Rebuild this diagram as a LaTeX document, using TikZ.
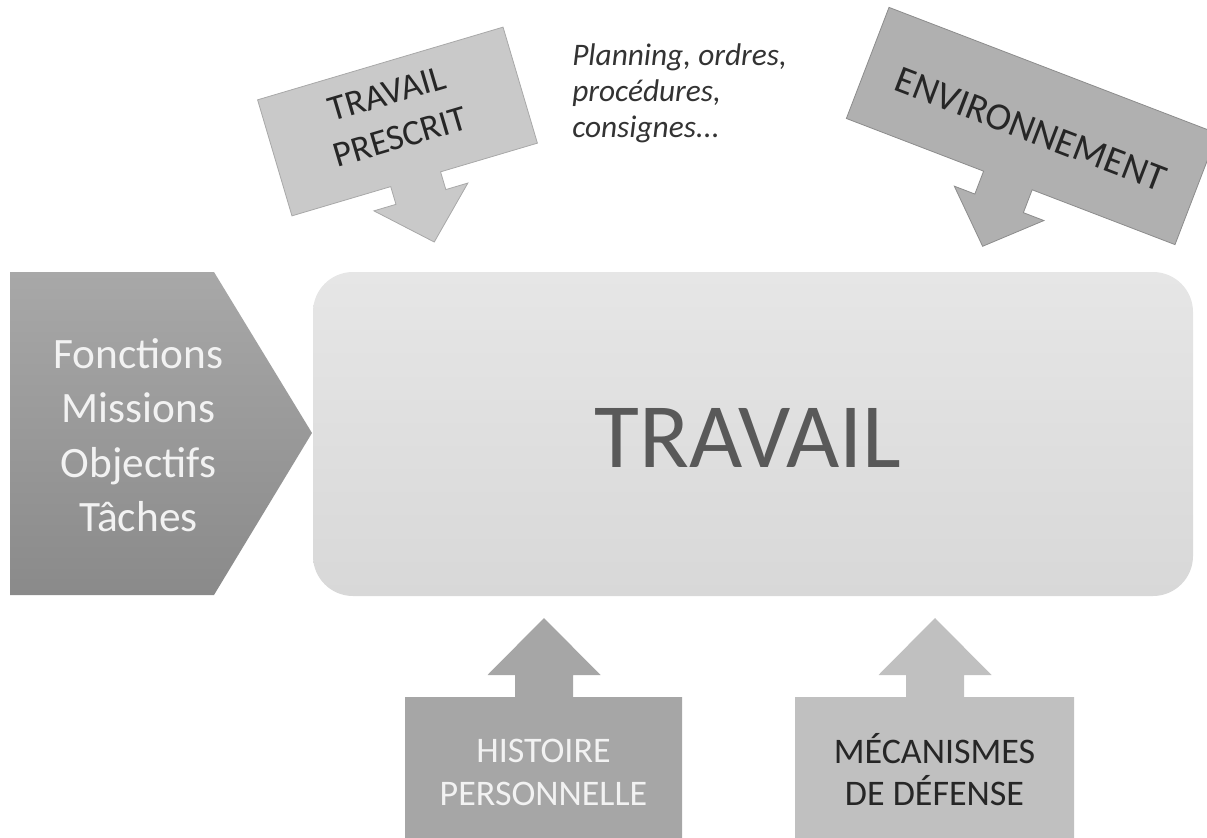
\documentclass[tikz,border=0pt]{standalone}
\usepackage{fontspec}
\setmainfont{Carlito}
\definecolor{boxtop}{HTML}{E6E6E6}
\definecolor{boxbot}{HTML}{D8D8D8}
\definecolor{penttop}{HTML}{A8A8A8}
\definecolor{pentbot}{HTML}{8A8A8A}
\definecolor{histfill}{HTML}{A6A6A6}
\definecolor{mecafill}{HTML}{C0C0C0}
\definecolor{prescfill}{HTML}{C9C9C9}
\definecolor{prescline}{HTML}{A8A8A8}
\definecolor{envfill}{HTML}{B0B0B0}
\definecolor{envline}{HTML}{8C8C8C}
\definecolor{darktext}{HTML}{262626}
\definecolor{notecol}{HTML}{333333}
\definecolor{maintext}{HTML}{595959}
\definecolor{lighttext}{HTML}{F2F2F2}
\begin{document}
\begin{tikzpicture}[x=0.75pt,y=-0.75pt,
  lbl/.style={inner sep=0pt, anchor=base},
  smalltxt/.style={lbl, font=\fontsize{27}{32}\selectfont},
  sidetxt/.style={lbl, font=\fontsize{32.5}{39}\selectfont, text=lighttext},
  notetxt/.style={inner sep=0pt, anchor=base west, font=\fontsize{23.5}{28}\selectfont\itshape, text=notecol}]
\useasboundingbox (0,0) rectangle (1207,838);
\clip (0,0) rectangle (1207,838);

% central block
\shade[top color=boxtop, bottom color=boxbot, rounded corners=30pt]
  (313,272) rectangle (1193,596);
\node[lbl, font=\fontsize{69}{80}\selectfont, text=maintext] (travail) at (748,467) {TRAVAIL};

% left pentagon
\shade[top color=penttop, bottom color=pentbot]
  (10,272) -- (214,272) -- (312,433) -- (214,595) -- (10,595) -- cycle;
\node[sidetxt] (f1) at (138.5,368) {Fonctions};
\node[sidetxt] (f2) at (138.5,422) {Missions};
\node[sidetxt] (f3) at (138.5,477) {Objectifs};
\node[sidetxt] (f4) at (138.5,531) {Tâches};

% bottom callouts
\fill[histfill] (405,845) -- (405,697) -- (515,697) -- (515,675) -- (487.5,675)
  -- (544,618) -- (600.5,675) -- (573,675) -- (573,697) -- (682,697) -- (682,845) -- cycle;
\node[smalltxt, text=lighttext] (h1) at (543.5,762) {HISTOIRE};
\node[smalltxt, text=lighttext] (h2) at (543.5,805) {PERSONNELLE};

\fill[mecafill] (795,845) -- (795,697) -- (906,697) -- (906,675) -- (878.5,675)
  -- (935,618) -- (991.5,675) -- (964,675) -- (964,697) -- (1074,697) -- (1074,845) -- cycle;
\node[smalltxt, text=darktext] (m1) at (934.5,763) {MÉCANISMES};
\node[smalltxt, text=darktext] (m2) at (934.5,805) {DE DÉFENSE};

% prescribed work callout
\begin{scope}[shift={(397.5,121.5)}, rotate=16.5]
  \filldraw[fill=prescfill, draw=prescline, line width=0.6pt]
    (-128,-60.5) -- (128,-60.5) -- (128,60.5) -- (27,60.5) -- (27,79) -- (50,79)
    -- (1,126) -- (-48,79) -- (-25,79) -- (-25,60.5) -- (-128,60.5) -- cycle;
  \node[smalltxt, text=darktext, rotate=16.5] (p1) at (-2,-18) {TRAVAIL};
  \node[smalltxt, text=darktext, rotate=16.5] (p2) at (-2,27) {PRESCRIT};
\end{scope}

% environment callout
\begin{scope}[shift={(1032,126)}, rotate=-21]
  \filldraw[fill=envfill, draw=envline, line width=0.6pt]
    (-176,-59.5) -- (176,-59.5) -- (176,59.5) -- (23,59.5) -- (23,84) -- (45,84)
    -- (-3,130) -- (-51,84) -- (-29,84) -- (-29,59.5) -- (-176,59.5) -- cycle;
  \node[lbl, font=\fontsize{29}{34}\selectfont, text=darktext, rotate=-21] (env) at (0,16) {ENVIRONNEMENT};
\end{scope}

% note beside the prescribed work
\node[notetxt] (n1) at (572,66) {Planning, ordres,};
\node[notetxt] (n2) at (572,102) {procédures,};
\node[notetxt] (n3) at (572,138) {consignes...};
\end{tikzpicture}
\end{document}
